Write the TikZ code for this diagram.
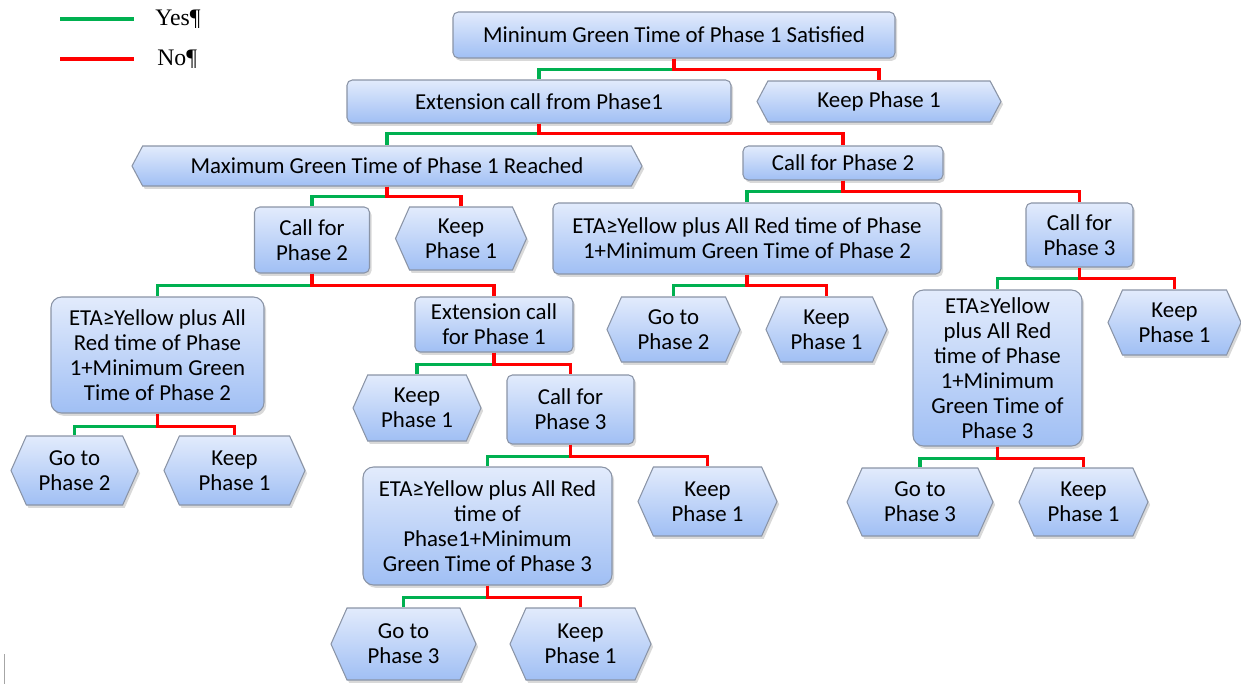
\documentclass[tikz,border=0pt]{standalone}
\usepackage{fontspec}
\setmainfont{Carlito}
\newfontfamily\legendfont{Liberation Serif}
\usetikzlibrary{shapes.symbols,shadows}

\definecolor{yesgreen}{RGB}{0,176,80}
\definecolor{nored}{RGB}{255,0,0}
\definecolor{boxtop}{RGB}{226,235,252}
\definecolor{boxbottom}{RGB}{160,191,244}
\definecolor{boxline}{RGB}{138,148,166}

\tikzset{
  box/.style={draw=boxline, line width=0.6pt, top color=boxtop, bottom color=boxbottom,
    align=center, inner sep=1pt, font=\fontsize{13pt}{14.2pt}\selectfont,
    drop shadow={shadow xshift=1.2pt, shadow yshift=-1.6pt, opacity=0.3}},
  cond/.style={box, rounded corners=3pt},
  bigcond/.style={box, rounded corners=6pt},
  act/.style={box, shape=signal, signal to=west and east, signal pointer angle=132},
  flatact/.style={act, signal pointer angle=124},
  dims/.style 2 args={minimum width=#1*0.02cm, minimum height=#2*0.02cm},
  legendtext/.style={font=\legendfont\fontsize{13.5pt}{15pt}\selectfont, anchor=west, inner sep=0pt},
  yesline/.style={yesgreen, line width=1.8pt},
  noline/.style={nored, line width=1.8pt},
}

\begin{document}
\begin{tikzpicture}[x=0.02cm, y=-0.02cm]
\useasboundingbox (0,0) rectangle (1241,684);

% legend
\coordinate (yesstart) at (60,19);
\coordinate (nostart) at (60,59);
\node[legendtext] (yes) at (155,19) {Yes¶};
\node[legendtext] (no) at (157,59) {No¶};
\draw[yesline, line width=2.2pt] (yesstart) -- ++(74,0);
\draw[noline, line width=2.2pt] (nostart) -- ++(74,0);

% first levels
\node[cond, dims={442}{46}] (top) at (674,35) {Mininum Green Time of Phase 1 Satisfied};
\node[cond, dims={384}{43}] (ext) at (539,101.5) {Extension call from Phase1};
\node[flatact, dims={244}{41}] (keepA) at (879,101.5) {Keep Phase 1};
\node[flatact, dims={510}{40}] (maxg) at (387,166) {Maximum Green Time of Phase 1 Reached};
\node[cond, dims={200}{34}] (callB) at (843,163) {Call for Phase 2};

% left branch
\node[cond, dims={115}{66}] (callC) at (312,240) {Call for\\Phase 2};
\node[act, dims={131}{63}] (keepB) at (461,238.5) {Keep\\Phase 1};
\node[bigcond, dims={213}{116}] (etaA) at (157.5,355) {ETA≥Yellow plus All\\Red time of Phase\\1+Minimum Green\\Time of Phase 2};
\node[cond, dims={158}{55}] (extC) at (494,324.5) {Extension call\\for Phase 1};
\node[act, dims={127}{69}] (goA) at (74.5,470.5) {Go to\\Phase 2};
\node[act, dims={141}{69}] (keepF) at (234.5,470.5) {Keep\\Phase 1};
\node[act, dims={128}{66}] (keepE) at (417,408) {Keep\\Phase 1};
\node[cond, dims={127}{69}] (callE) at (570.5,409.5) {Call for\\Phase 3};
\node[bigcond, dims={249}{118}] (etaC) at (487.5,526) {ETA≥Yellow plus All Red\\time of\\Phase1+Minimum\\Green Time of Phase 3};
\node[act, dims={139}{69}] (keepG) at (707.5,501.5) {Keep\\Phase 1};
\node[act, dims={145}{72}] (goC) at (403.5,644) {Go to\\Phase 3};
\node[act, dims={141}{72}] (keepI) at (580.5,644) {Keep\\Phase 1};

% right branch
\node[cond, dims={388}{71}] (etaB) at (747,238.5) {ETA≥Yellow plus All Red time of Phase\\1+Minimum Green Time of Phase 2};
\node[cond, dims={107}{64}] (callD) at (1079.5,235) {Call for\\Phase 3};
\node[act, dims={133}{65}] (goB) at (673.5,329.5) {Go to\\Phase 2};
\node[act, dims={121}{65}] (keepC) at (826.5,329.5) {Keep\\Phase 1};
\node[bigcond, dims={169}{156}] (etaD) at (997.5,368) {ETA≥Yellow\\plus All Red\\time of Phase\\1+Minimum\\Green Time of\\Phase 3};
\node[act, dims={133}{65}] (keepD) at (1174.5,322.5) {Keep\\Phase 1};
\node[act, dims={146}{68}] (goD) at (920,502) {Go to\\Phase 3};
\node[act, dims={129}{68}] (keepH) at (1083.5,502) {Keep\\Phase 1};

% yes / no connectors
\draw[yesline] (top.south) -- ++(0,11) -| (ext.north);
\draw[noline] (top.south) -- ++(0,11) -| (keepA.north);

\draw[yesline] (ext.south) -- ++(0,10) -| (maxg.north);
\draw[noline] (ext.south) -- ++(0,10) -| (callB.north);

\draw[yesline] (maxg.south) -- ++(0,10) -| (callC.north);
\draw[noline] (maxg.south) -- ++(0,10) -| (keepB.north);

\draw[yesline] (callB.south) -- ++(0,11) -| (etaB.north);
\draw[noline] (callB.south) -- ++(0,11) -| (callD.north);

\draw[yesline] (callC.south) -- ++(0,12) -| (etaA.north);
\draw[noline] (callC.south) -- ++(0,12) -| (extC.north);

\draw[yesline] (etaB.south) -- ++(0,11) -| (goB.north);
\draw[noline] (etaB.south) -- ++(0,11) -| (keepC.north);

\draw[yesline] (callD.south) -- ++(0,11) -| (etaD.north);
\draw[noline] (callD.south) -- ++(0,11) -| (keepD.north);

\draw[yesline] (etaA.south) -- ++(0,13) -| (goA.north);
\draw[noline] (etaA.south) -- ++(0,13) -| (keepF.north);

\draw[yesline] (extC.south) -- ++(0,12) -| (keepE.north);
\draw[noline] (extC.south) -- ++(0,12) -| (callE.north);

\draw[yesline] (etaD.south) -- ++(0,12) -| (goD.north);
\draw[noline] (etaD.south) -- ++(0,12) -| (keepH.north);

\draw[yesline] (callE.south) -- ++(0,12) -| (etaC.north);
\draw[noline] (callE.south) -- ++(0,12) -| (keepG.north);

\draw[yesline] (etaC.south) -- ++(0,12) -| (goC.north);
\draw[noline] (etaC.south) -- ++(0,12) -| (keepI.north);

% cursor mark
\draw[gray!70, line width=0.8pt] (4.5,654) -- (4.5,684);
\end{tikzpicture}
\end{document}
